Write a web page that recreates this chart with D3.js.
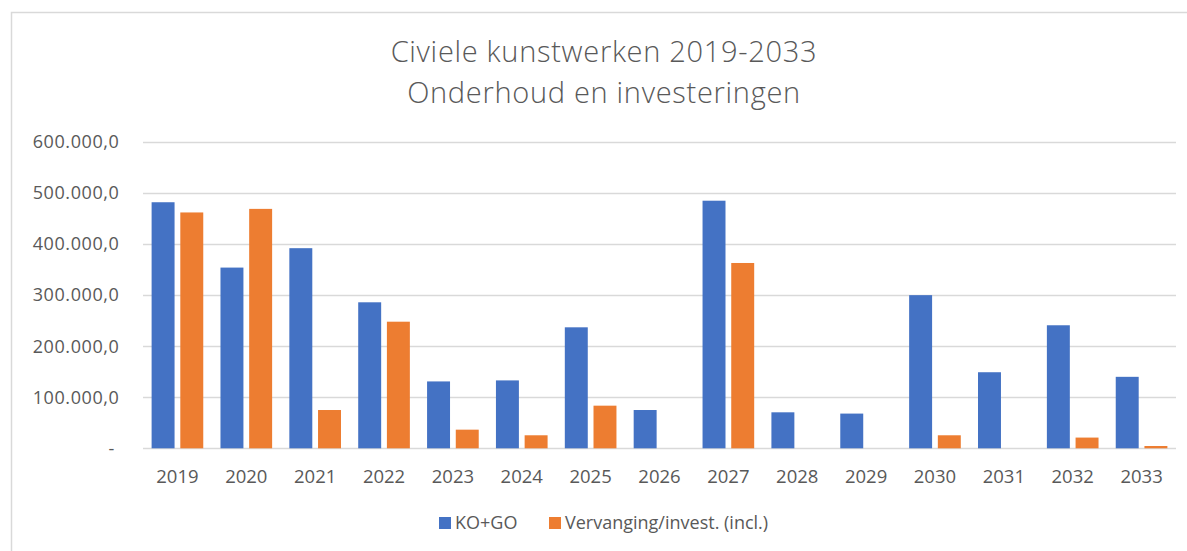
<!DOCTYPE html>
<html>
<head>
<meta charset="utf-8">
<script src="https://cdn.jsdelivr.net/npm/d3@7"></script>
<style>
  html, body { margin: 0; padding: 0; background: #fff; }
  svg { display: block; }
  text { font-family: "Open Sans", sans-serif; fill: #595959; }
</style>
</head>
<body>
<svg id="chart" width="1187" height="551"></svg>
<script>
// ---- data ----
const years = ["2019","2020","2021","2022","2023","2024","2025","2026","2027","2028","2029","2030","2031","2032","2033"];
const seriesNames = ["KO+GO", "Vervanging/invest. (incl.)"];
const koGo = [482000, 354000, 392000, 286000, 131000, 133000, 237000, 75000, 485000, 70500, 68000, 300000, 149000, 241000, 140000];
const vervanging = [462000, 469000, 75000, 248000, 36500, 25500, 83500, 0, 363000, 0, 0, 25500, 0, 21000, 4500];
const yTicks = [0, 100000, 200000, 300000, 400000, 500000, 600000];
const titleLines = ["Civiele kunstwerken 2019-2033", "Onderhoud en investeringen"];
const colors = ["#4472C4", "#ED7D31"];

const svg = d3.select("#chart");

// frame
svg.append("rect")
  .attr("x", 11.5).attr("y", 12.5)
  .attr("width", 1200).attr("height", 600)
  .attr("fill", "none").attr("stroke", "#d9d9d9").attr("stroke-width", 1.5);

const x0 = d3.scaleBand().domain(years).range([143, 1176]).paddingInner(0.25).paddingOuter(0.125);
const x1 = d3.scaleBand().domain(seriesNames).range([0, x0.bandwidth()]).paddingInner(0.2);
const y = d3.scaleLinear().domain([0, 600000]).range([448.3, 142]);

const nl = d3.formatLocale({decimal: ",", thousands: ".", grouping: [3], currency: ["€", ""]});
const fmt = nl.format(",.1f");

// gridlines
svg.append("g").selectAll("line").data(yTicks).join("line")
  .attr("x1", 143).attr("x2", 1176)
  .attr("y1", d => Math.round(y(d)) + 0.5).attr("y2", d => Math.round(y(d)) + 0.5)
  .attr("stroke", "#d9d9d9").attr("stroke-width", 1.3);

// y labels
svg.append("g").selectAll("text").data(yTicks).join("text")
  .attr("x", d => d === 0 ? 115 : 119.5)
  .attr("y", d => y(d))
  .attr("dy", "0.35em")
  .attr("text-anchor", "end")
  .style("font-size", "18px")
  .style("letter-spacing", "0.6px")
  .text(d => d === 0 ? "-" : fmt(d));

// bars
const data = years.map((yr, i) => ({year: yr, vals: [koGo[i], vervanging[i]]}));
const groups = svg.append("g").selectAll("g").data(data).join("g")
  .attr("transform", d => `translate(${x0(d.year)},0)`);
groups.selectAll("rect").data(d => d.vals.map((v, j) => ({key: seriesNames[j], v, j}))).join("rect")
  .attr("x", d => x1(d.key))
  .attr("width", x1.bandwidth())
  .attr("y", d => y(d.v))
  .attr("height", d => y(0) - y(d.v))
  .attr("fill", d => colors[d.j]);

// x labels
svg.append("g").selectAll("text").data(years).join("text")
  .attr("x", d => x0(d) + x0.bandwidth() / 2)
  .attr("y", 477)
  .attr("dy", "0.35em")
  .attr("text-anchor", "middle")
  .style("font-size", "18.5px")
  .text(d => d);

// title
svg.append("g").selectAll("text").data(titleLines).join("text")
  .attr("x", 604)
  .attr("y", (d, i) => 52 + i * 41)
  .attr("dy", "0.35em")
  .attr("text-anchor", "middle")
  .style("font-size", "29px")
  .style("letter-spacing", "0.7px")
  .style("font-weight", 300)
  .text(d => d);

// legend
const legendItems = [
  {name: seriesNames[0], color: colors[0], x: 439},
  {name: seriesNames[1], color: colors[1], x: 549}
];
const lg = svg.append("g").selectAll("g").data(legendItems).join("g")
  .attr("transform", d => `translate(${d.x},0)`);
lg.append("rect").attr("x", 0).attr("y", 517).attr("width", 12).attr("height", 12).attr("fill", d => d.color);
lg.append("text").attr("x", 16).attr("y", 523).attr("dy", "0.35em")
  .style("font-size", "18px").text(d => d.name);
</script>
</body>
</html>
